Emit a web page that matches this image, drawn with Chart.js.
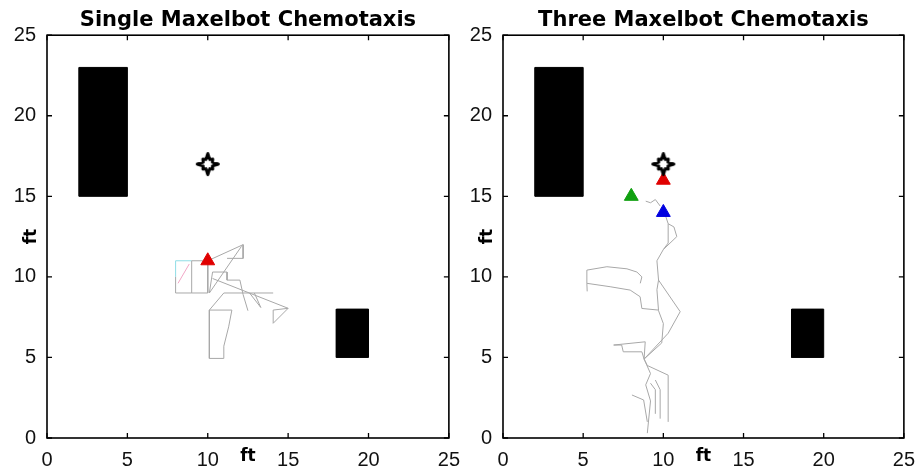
<!DOCTYPE html>
<html><head><meta charset="utf-8">
<script src="https://cdn.jsdelivr.net/npm/chart.js@4.4.0/dist/chart.umd.min.js"></script>
<style>
html,body{margin:0;padding:0;background:#fff;}
#wrap{position:relative;width:917px;height:472px;overflow:hidden;}
canvas{position:absolute;top:0;}
#left{left:0;} #right{left:458px;}
</style></head><body>
<div id="wrap"><canvas id="left" width="470" height="472"></canvas><canvas id="right" width="467" height="472"></canvas></div>
<script>
// ---------- data ----------
const titleLeft = 'Single Maxelbot Chemotaxis';
const titleRight = 'Three Maxelbot Chemotaxis';
const axisLabel = 'ft';
const axisMin = 0, axisMax = 25, axisStep = 5;

const obstacleBig = [[2,15],[5,15],[5,23],[2,23],[2,15]];
const obstacleSmall = [[18,5],[20,5],[20,8],[18,8],[18,5]];
const sourcePoint = [[10,17]];

const leftRobotRed = [[10,11]];
const rightRobotRed = [[10,16]];
const rightRobotGreen = [[8,15]];
const rightRobotBlue = [[10,14]];

const leftPaths = [
  [[10.0,11.0],[10.0,9.0],[9.0,9.0],[9.0,11.0],[9.7,11.0]],
  [[9.0,9.0],[8.0,9.0],[8.0,10.0]],
  [[10.0,11.0],[12.2,12.0],[12.2,11.15],[11.2,11.15]],
  [[12.1,11.9],[10.1,9.0],[10.3,10.3],[11.2,10.3],[11.2,9.8],[12.0,9.8],[12.2,8.9],[12.5,7.9]],
  [[10.3,9.9],[15.0,8.05],[14.07,7.12],[14.07,7.94],[15.0,8.05]],
  [[14.07,9.0],[11.0,9.0],[10.1,7.94],[10.1,4.94],[11.0,4.94],[11.0,5.7],[11.3,6.9],[11.5,7.94],[10.1,7.94]],
  [[12.6,9.0],[13.3,8.1],[12.9,9.0]]
];
const leftCyanPath = [[8.0,10.0],[8.0,11.0],[9.0,11.0]];
const leftPinkPath = [[8.15,9.6],[8.85,10.8]];

const rightPaths = [
  [[9.0,0.3],[9.2,2.3],[8.9,3.3],[9.2,4.0],[8.8,4.9],[9.9,5.9],[10.0,7.1],[9.7,7.9],[9.6,9.2],[9.7,9.8],[9.6,11.0],[10.0,11.7],[10.3,12.1],[10.3,13.3],[10.1,13.9]],
  [[10.3,1.0],[10.3,3.9],[9.0,4.5],[8.8,4.9],[10.3,6.5],[11.05,7.84],[9.7,9.8]],
  [[10.0,11.7],[10.84,12.5],[10.66,13.1],[10.3,13.3]],
  [[9.8,14.4],[9.5,14.8],[9.2,14.6],[8.9,14.7]],
  [[9.5,1.5],[9.5,3.0],[9.2,3.4]],
  [[9.8,1.2],[9.8,3.0],[9.5,3.6]],
  [[8.04,2.67],[8.77,2.36],[9.0,1.0]],
  [[8.8,4.9],[8.87,5.97],[6.9,5.77],[7.4,5.77],[7.5,5.35],[8.66,5.35],[8.8,4.9]],
  [[9.69,7.94],[8.66,8.04],[8.55,8.77],[7.93,9.18],[6.68,9.39],[5.23,9.6],[5.23,10.42],[6.48,10.63],[7.73,10.5],[8.35,10.3],[8.66,10.0],[8.56,9.6]],
  [[5.23,9.6],[5.25,9.1]]
];

// ---------- helpers ----------
const pts = arr => arr.map(([x,y]) => ({x, y}));

function makeStar(){
  const c = document.createElement('canvas');
  c.width = 26; c.height = 26;
  const g = c.getContext('2d');
  const cx = 13, cy = 13;
  g.beginPath();
  for (let i = 0; i < 16; i++) {
    const a = -Math.PI/2 + i * Math.PI/8;
    const r = (i % 4 === 0) ? 10.5 : (i % 2 === 0 ? 7 : 5);
    const px = cx + r*Math.cos(a), py = cy + r*Math.sin(a);
    if (i === 0) g.moveTo(px, py); else g.lineTo(px, py);
  }
  g.closePath();
  g.fillStyle = '#fff'; g.fill();
  g.lineWidth = 3; g.strokeStyle = '#000'; g.lineJoin = 'round'; g.stroke();
  return c;
}
const starImg = makeStar();

function pathDs(arr, color){
  return {data: pts(arr), showLine: true, borderColor: color, borderWidth: 1, pointRadius: 0, fill: false, order: 5, tension: 0};
}
function rectDs(arr){
  return {data: pts(arr), showLine: true, borderColor: '#000', backgroundColor: '#000', borderWidth: 1, pointRadius: 0, fill: 'shape', order: 10};
}
function markerDs(arr, color){
  return {data: pts(arr), showLine: false, pointStyle: 'triangle', pointRadius: 8, backgroundColor: color, borderColor: color, borderWidth: 1, order: 1};
}
function starDs(arr){
  return {data: pts(arr), showLine: false, pointStyle: starImg, pointRadius: 12, order: 0};
}

const framePlugin = {
  id: 'frame',
  afterDatasetsDraw(chart){
    const {ctx, chartArea: a, scales: {x, y}} = chart;
    ctx.save();
    ctx.strokeStyle = '#000';
    ctx.lineWidth = 1.6;
    ctx.strokeRect(a.left, a.top, a.right - a.left, a.bottom - a.top);
    ctx.beginPath();
    ctx.lineWidth = 1.3;
    x.ticks.forEach(t => {
      const p = x.getPixelForValue(t.value);
      ctx.moveTo(p, a.bottom); ctx.lineTo(p, a.bottom - 5);
      ctx.moveTo(p, a.top); ctx.lineTo(p, a.top + 5);
    });
    y.ticks.forEach(t => {
      const p = y.getPixelForValue(t.value);
      ctx.moveTo(a.left, p); ctx.lineTo(a.left + 5, p);
      ctx.moveTo(a.right, p); ctx.lineTo(a.right - 5, p);
    });
    ctx.stroke();
    ctx.restore();
  }
};

function makeChart(id, title, datasets, yWidth, yTitlePad){
  return new Chart(document.getElementById(id), {
    type: 'line',
    data: {datasets},
    plugins: [framePlugin],
    options: {
      responsive: false,
      animation: false,
      layout: {padding: {left: 0, right: 0, top: 0, bottom: 0}},
      plugins: {
        legend: {display: false},
        tooltip: {enabled: false},
        title: {display: true, text: title, color: '#000', fullSize: false,
          font: {family: 'DejaVu Sans', weight: 'bold', size: 21, lineHeight: 1.2},
          padding: {top: 8, bottom: 2}}
      },
      scales: {
        x: {type: 'linear', min: axisMin, max: axisMax,
          ticks: {stepSize: axisStep, padding: 10, color: '#111', maxRotation: 0,
            font: {family: 'Liberation Sans', size: 20}},
          grid: {display: false, drawTicks: false},
          border: {display: false},
          title: {display: true, text: axisLabel, color: '#000',
            font: {family: 'DejaVu Sans', weight: 'bold', size: 17, lineHeight: 1.2},
            padding: {top: -20, bottom: 5}},
          afterFit(s){ s.height = 34; }
        },
        y: {type: 'linear', min: axisMin, max: axisMax,
          ticks: {stepSize: axisStep, padding: 11, color: '#111',
            font: {family: 'Liberation Sans', size: 20}},
          grid: {display: false, drawTicks: false},
          border: {display: false},
          title: {display: true, text: axisLabel, color: '#000',
            font: {family: 'DejaVu Sans', weight: 'bold', size: 17, lineHeight: 1.2},
            padding: {top: yTitlePad, bottom: 0}},
          afterFit(s){ s.width = yWidth; }
        }
      }
    }
  });
}

const leftDatasets = [
  starDs(sourcePoint),
  markerDs(leftRobotRed, '#e00000'),
  ...leftPaths.map(p => pathDs(p, '#a8a8a8')),
  pathDs(leftCyanPath, '#8fdde6'),
  pathDs(leftPinkPath, '#f2a6c6'),
  rectDs(obstacleBig),
  rectDs(obstacleSmall)
];
const rightDatasets = [
  starDs(sourcePoint),
  markerDs(rightRobotRed, '#e00000'),
  markerDs(rightRobotGreen, '#10a010'),
  markerDs(rightRobotBlue, '#0000e0'),
  ...rightPaths.map(p => pathDs(p, '#a8a8a8')),
  rectDs(obstacleBig),
  rectDs(obstacleSmall)
];

makeChart('left', titleLeft, leftDatasets, 47, 21);
makeChart('right', titleRight, rightDatasets, 45, 19);
</script>
</body></html>
